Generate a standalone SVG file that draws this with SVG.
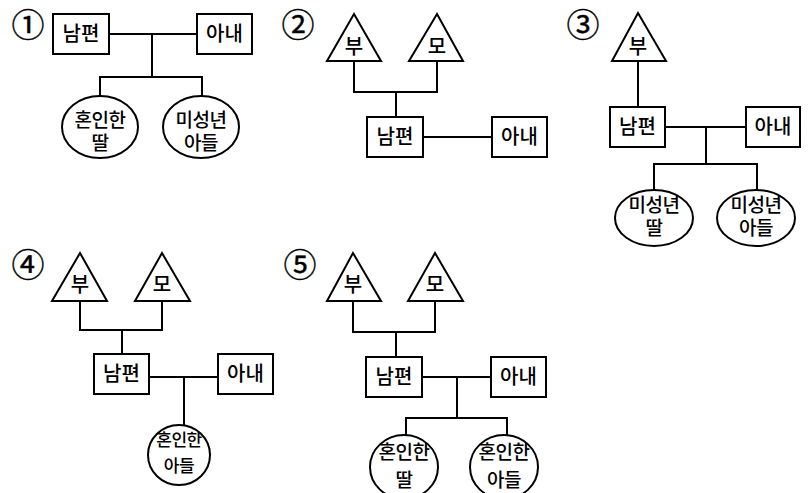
<svg xmlns="http://www.w3.org/2000/svg" width="808" height="493" viewBox="0 0 808 493">
<style>
.s{fill:#fff;stroke:#000;stroke-width:2}
.c path{fill:none;stroke:#000;stroke-width:2}
text{font-family:"Noto Sans CJK KR","Noto Sans",sans-serif;font-size:20px;font-weight:500;fill:#000;text-anchor:middle}
.e{font-size:19px;letter-spacing:-0.5px}
.e4{font-size:17px;letter-spacing:-0.5px}
.n{font-family:"Noto Sans CJK KR",serif;font-size:33px;font-weight:400;stroke:#000;stroke-width:0.4}
</style>
<rect width="808" height="493" fill="#fff"/>
<g id="labels">
<text class="n" x="28" y="37">①</text>
<text class="n" x="298" y="37">②</text>
<text class="n" x="583" y="37">③</text>
<text class="n" x="28" y="277">④</text>
<text class="n" x="300" y="277">⑤</text>
</g>
<g class="c" id="connectors">
<path d="M109 34H197M152 34V77M100 96V77H202V96"/>
<path d="M354 61V92H437V61M396 92V117M423 137H492"/>
<path d="M638 61V107M665 127H746M706 127V164M654 190V164H757V190"/>
<path d="M80 301V330H162V301M122 330V354M149 377H218M184 377V425"/>
<path d="M353 301V332H435V301M396 332V357M422 377H491M457 377V418M406 436V418H507V436"/>
</g>
<g id="d1-husband"><rect class="s" x="53" y="14" width="56" height="40"/><text x="81" y="41">남편</text></g>
<g id="d1-wife"><rect class="s" x="197" y="14" width="55" height="40"/><text x="224.5" y="41">아내</text></g>
<g id="d1-daughter"><ellipse class="s" cx="100" cy="127" rx="38" ry="31"/><text class="e" x="100" y="127">혼인한</text><text class="e" x="100" y="150">딸</text></g>
<g id="d1-son"><ellipse class="s" cx="201" cy="127" rx="38" ry="31"/><text class="e" x="201" y="127">미성년</text><text class="e" x="201" y="150">아들</text></g>
<g id="d2-father"><polygon class="s" points="354,14 381,61 327,61"/><text x="354" y="54">부</text></g>
<g id="d2-mother"><polygon class="s" points="437,14 463,61 409,61"/><text x="437" y="54">모</text></g>
<g id="d2-husband"><rect class="s" x="367" y="117" width="56" height="40"/><text x="395" y="144">남편</text></g>
<g id="d2-wife"><rect class="s" x="492" y="117" width="55" height="40"/><text x="519.5" y="144">아내</text></g>
<g id="d3-father"><polygon class="s" points="638,13 666,61 612,61"/><text x="638" y="54">부</text></g>
<g id="d3-husband"><rect class="s" x="610" y="107" width="55" height="40"/><text x="637.5" y="134">남편</text></g>
<g id="d3-wife"><rect class="s" x="746" y="107" width="54" height="40"/><text x="773" y="134">아내</text></g>
<g id="d3-daughter"><ellipse class="s" cx="654" cy="218" rx="39" ry="28"/><text class="e" x="654" y="212">미성년</text><text class="e" x="654" y="235">딸</text></g>
<g id="d3-son"><ellipse class="s" cx="756" cy="218" rx="39" ry="28"/><text class="e" x="756" y="212">미성년</text><text class="e" x="756" y="235">아들</text></g>
<g id="d4-father"><polygon class="s" points="80,253 107,301 52,301"/><text x="80" y="292">부</text></g>
<g id="d4-mother"><polygon class="s" points="162,253 190,301 135,301"/><text x="162" y="292">모</text></g>
<g id="d4-husband"><rect class="s" x="94" y="354" width="55" height="40"/><text x="121.5" y="381">남편</text></g>
<g id="d4-wife"><rect class="s" x="218" y="354" width="55" height="40"/><text x="245.5" y="381">아내</text></g>
<g id="d4-son"><ellipse class="s" cx="179" cy="455" rx="31" ry="30"/><text class="e4" x="179" y="446">혼인한</text><text class="e4" x="179" y="472">아들</text></g>
<g id="d5-father"><polygon class="s" points="353,253 381,301 327,301"/><text x="353" y="292">부</text></g>
<g id="d5-mother"><polygon class="s" points="435,253 463,301 408,301"/><text x="435" y="292">모</text></g>
<g id="d5-husband"><rect class="s" x="366" y="357" width="56" height="40"/><text x="394" y="384">남편</text></g>
<g id="d5-wife"><rect class="s" x="491" y="357" width="55" height="40"/><text x="518.5" y="384">아내</text></g>
<g id="d5-daughter"><ellipse class="s" cx="404" cy="467" rx="34" ry="32"/><text class="e" x="404" y="459">혼인한</text><text class="e" x="404" y="487">딸</text></g>
<g id="d5-son"><ellipse class="s" cx="504" cy="467" rx="34" ry="32"/><text class="e" x="504" y="459">혼인한</text><text class="e" x="504" y="487">아들</text></g>
</svg>
